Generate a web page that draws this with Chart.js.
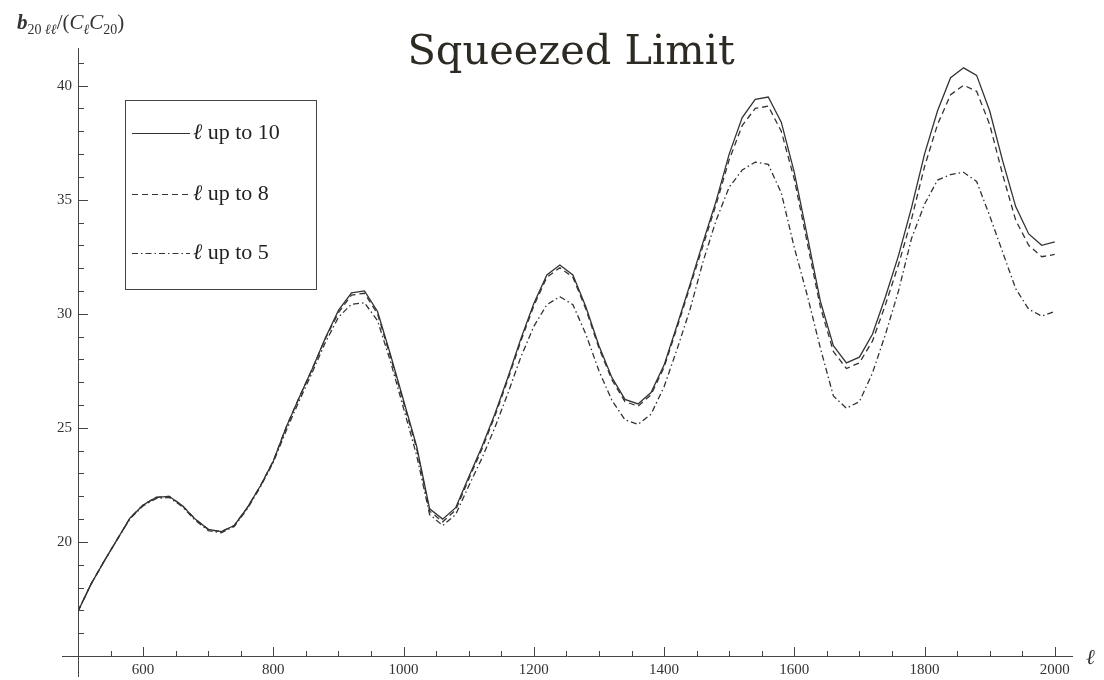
<!DOCTYPE html>
<html>
<head>
<meta charset="utf-8">
<script src="https://cdn.jsdelivr.net/npm/chart.js@4"></script>
<style>
  html, body { margin: 0; padding: 0; background: #fff; }
  #wrap { position: relative; width: 1104px; height: 680px; }
</style>
</head>
<body>
<div id="wrap"><canvas id="squeezedChart" width="1104" height="680"></canvas></div>
<script>
// multipole values along the x axis
const ells = [500, 520, 540, 560, 580, 600, 620, 640, 660, 680, 700, 720, 740, 760, 780, 800,
  820, 840, 860, 880, 900, 920, 940, 960, 980, 1000, 1020, 1040, 1060, 1080, 1100, 1120,
  1140, 1160, 1180, 1200, 1220, 1240, 1260, 1280, 1300, 1320, 1340, 1360, 1380, 1400, 1420,
  1440, 1460, 1480, 1500, 1520, 1540, 1560, 1580, 1600, 1620, 1640, 1660, 1680, 1700, 1720,
  1740, 1760, 1780, 1800, 1820, 1840, 1860, 1880, 1900, 1920, 1940, 1960, 1980, 2000];

const upTo10 = [16.96, 18.15, 19.15, 20.1, 21.05, 21.62, 21.95, 22.0, 21.6, 21.0, 20.55, 20.45,
  20.72, 21.5, 22.45, 23.55, 25.05, 26.35, 27.6, 28.95, 30.15, 30.92, 31.0, 30.1, 28.2, 26.2,
  24.2, 21.45, 21.0, 21.5, 22.85, 24.15, 25.6, 27.2, 28.9, 30.45, 31.7, 32.14, 31.7, 30.3,
  28.6, 27.2, 26.25, 26.05, 26.55, 27.75, 29.5, 31.3, 33.15, 34.95, 37.0, 38.6, 39.4, 39.5,
  38.4, 36.2, 33.4, 30.55, 28.6, 27.85, 28.1, 29.1, 30.75, 32.55, 34.65, 37.0, 38.9, 40.35,
  40.78, 40.45, 38.9, 36.7, 34.7, 33.5, 33.0, 33.15];

const upTo8 = [16.96, 18.15, 19.15, 20.1, 21.05, 21.62, 21.95, 22.0, 21.6, 21.0, 20.55, 20.45,
  20.72, 21.5, 22.45, 23.55, 25.05, 26.35, 27.6, 28.92, 30.05, 30.82, 30.9, 30.0, 28.1, 26.1,
  24.1, 21.35, 20.88, 21.4, 22.75, 24.05, 25.5, 27.1, 28.8, 30.35, 31.6, 32.02, 31.6, 30.2,
  28.5, 27.1, 26.15, 25.95, 26.45, 27.65, 29.4, 31.2, 33.0, 34.8, 36.75, 38.25, 39.0, 39.1,
  38.0, 35.9, 33.1, 30.3, 28.35, 27.6, 27.85, 28.8, 30.4, 32.15, 34.15, 36.45, 38.3, 39.6,
  40.02, 39.75, 38.3, 36.1, 34.1, 33.0, 32.5, 32.6];

const upTo5 = [16.96, 18.15, 19.15, 20.1, 21.02, 21.58, 21.9, 21.95, 21.55, 20.95, 20.5, 20.4,
  20.68, 21.45, 22.4, 23.5, 24.9, 26.2, 27.45, 28.75, 29.85, 30.42, 30.48, 29.7, 27.9, 25.85,
  23.8, 21.2, 20.72, 21.2, 22.45, 23.65, 25.0, 26.5, 28.1, 29.45, 30.4, 30.75, 30.4, 29.1,
  27.5, 26.2, 25.35, 25.15, 25.6, 26.8, 28.45, 30.2, 32.3, 34.1, 35.55, 36.3, 36.65, 36.55,
  35.3, 32.9, 30.8, 28.5, 26.4, 25.86, 26.15, 27.4, 29.1, 31.0, 33.3, 34.8, 35.86, 36.1,
  36.2, 35.8, 34.3, 32.7, 31.1, 30.2, 29.9, 30.1];

const seriesLabels = ["up to 10", "up to 8", "up to 5"];
const xTickLabels = [600, 800, 1000, 1200, 1400, 1600, 1800, 2000];
const yTickLabels = [20, 25, 30, 35, 40];
const chartTitle = "Squeezed Limit";

const ink = "#333";
const serif = "'Liberation Serif', 'DejaVu Serif', serif";

function toPoints(values) {
  return ells.map((l, i) => ({ x: l, y: values[i] }));
}

// axes, ticks, legend and labels drawn Mathematica-style on top of the chart scales
const frame = {
  id: "frame",
  afterDraw(chart) {
    const { ctx, scales } = chart;
    const xs = scales.x;
    const ys = scales.y;
    const x0 = xs.getPixelForValue(500);
    const y0 = ys.getPixelForValue(15);
    ctx.save();
    ctx.strokeStyle = "#444";
    ctx.fillStyle = "#333";
    ctx.lineWidth = 1;

    // axis lines
    ctx.beginPath();
    ctx.moveTo(62, Math.round(y0) + 0.5);
    ctx.lineTo(xs.getPixelForValue(2028), Math.round(y0) + 0.5);
    ctx.moveTo(Math.round(x0) + 0.5, ys.getPixelForValue(41.65));
    ctx.lineTo(Math.round(x0) + 0.5, 677);
    ctx.stroke();

    // x ticks
    ctx.beginPath();
    for (let v = 550; v <= 2000; v += 50) {
      const px = Math.round(xs.getPixelForValue(v)) + 0.5;
      const len = v % 200 === 0 ? 9 : 5;
      ctx.moveTo(px, y0);
      ctx.lineTo(px, y0 - len);
    }
    // y ticks
    for (let v = 16; v <= 41; v += 1) {
      const py = Math.round(ys.getPixelForValue(v)) + 0.5;
      const len = v % 5 === 0 ? 10 : 6;
      ctx.moveTo(x0, py);
      ctx.lineTo(x0 + len, py);
    }
    ctx.stroke();

    ctx.font = "15px " + serif;
    ctx.textAlign = "center";
    ctx.textBaseline = "top";
    xTickLabels.forEach((v) => ctx.fillText(String(v), xs.getPixelForValue(v), 663));
    ctx.textAlign = "right";
    ctx.textBaseline = "middle";
    yTickLabels.forEach((v) => ctx.fillText(String(v), 72, ys.getPixelForValue(v)));

    // axis names
    ctx.textAlign = "left";
    ctx.textBaseline = "alphabetic";
    ctx.font = "italic 21px " + serif;
    ctx.fillText("\u2113", 1086, 664);

    const parts = [
      ["b", "italic bold 21px ", 0],
      ["20", "14px ", 5],
      [" \u2113\u2113", "italic 14px ", 5],
      ["/(", "21px ", 0],
      ["C", "italic 21px ", 0],
      ["\u2113", "italic 14px ", 5],
      ["C", "italic 21px ", 0],
      ["20", "14px ", 5],
      [")", "21px ", 0],
    ];
    let cx = 17;
    parts.forEach(([t, f, dy]) => {
      ctx.font = f + serif;
      ctx.fillText(t, cx, 29 + dy);
      cx += ctx.measureText(t).width;
    });

    // title
    ctx.fillStyle = "#2d2a24";
    ctx.font = "41.5px 'DejaVu Serif', serif";
    ctx.textAlign = "center";
    ctx.fillText(chartTitle, 571, 64);

    // legend
    ctx.strokeStyle = "#444";
    ctx.strokeRect(125.5, 100.5, 191, 189);
    const rows = [133, 194, 253];
    chart.data.datasets.forEach((ds, i) => {
      ctx.strokeStyle = ink;
      ctx.lineWidth = 1.2;
      ctx.setLineDash(ds.borderDash || []);
      ctx.beginPath();
      ctx.moveTo(132, rows[i] + 0.5);
      ctx.lineTo(190, rows[i] + 0.5);
      ctx.stroke();
      ctx.setLineDash([]);
      ctx.fillStyle = "#222";
      ctx.textAlign = "left";
      ctx.textBaseline = "middle";
      ctx.font = "italic 22px " + serif;
      ctx.fillText("\u2113", 193, rows[i]);
      const w = ctx.measureText("\u2113").width;
      ctx.font = "22px " + serif;
      ctx.fillText(" " + seriesLabels[i], 193 + w, rows[i]);
    });
    ctx.restore();
  },
};

const ctx = document.getElementById("squeezedChart");
new Chart(ctx, {
  type: "line",
  data: {
    datasets: [
      { label: seriesLabels[0], data: toPoints(upTo10), borderDash: [] },
      { label: seriesLabels[1], data: toPoints(upTo8), borderDash: [6, 4] },
      { label: seriesLabels[2], data: toPoints(upTo5), borderDash: [6, 3, 1.5, 3] },
    ].map((ds) => ({
      ...ds,
      borderColor: ink,
      borderWidth: 1.3,
      pointRadius: 0,
      fill: false,
      tension: 0,
    })),
  },
  options: {
    responsive: false,
    animation: false,
    layout: { padding: { left: 78, top: 48, right: 31, bottom: 24 } },
    plugins: { legend: { display: false }, tooltip: { enabled: false } },
    scales: {
      x: { type: "linear", min: 500, max: 2028, display: false },
      y: { type: "linear", min: 15, max: 41.65, display: false },
    },
  },
  plugins: [frame],
});
</script>
</body>
</html>
